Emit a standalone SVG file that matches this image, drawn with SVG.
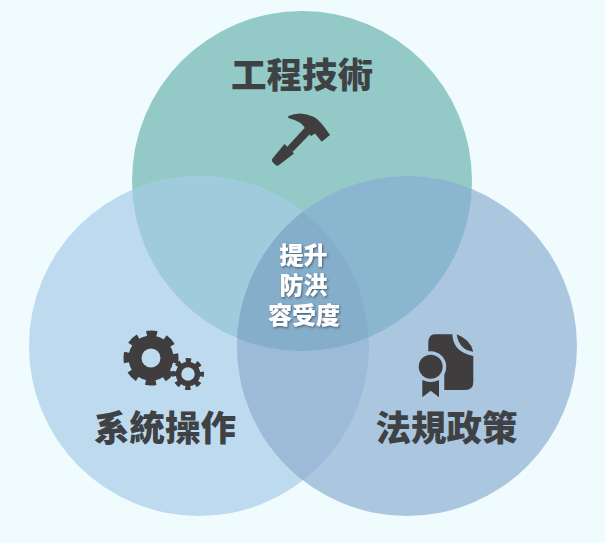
<svg xmlns="http://www.w3.org/2000/svg" width="605" height="543" viewBox="0 0 605 543">
  <style>
    .t{font-family:"Noto Sans CJK TC","Noto Sans CJK SC",sans-serif;font-weight:900;text-anchor:middle}
    .title{font-size:35.500px;fill:#3f4244}
    .mid{font-size:24px;fill:#fff;filter:url(#sh)}
    .ic{fill:#3f3d3e}
  </style>
  <defs>
    <clipPath id="cT"><circle cx="302" cy="181" r="170"/></clipPath>
    <clipPath id="cL"><circle cx="199" cy="346" r="170"/></clipPath>
    <clipPath id="cR"><circle cx="407" cy="346" r="170"/></clipPath>
    <filter id="sh" x="-20%" y="-20%" width="140%" height="140%"><feDropShadow dx="1" dy="1.2" stdDeviation="0.8" flood-color="#34424f" flood-opacity="0.75"/></filter>
  </defs>
  <rect width="605" height="543" fill="#f0fbfe"/>
  <g id="venn">
    <circle cx="302" cy="181" r="170" fill="#93c9c6"/>
    <circle cx="199" cy="346" r="170" fill="#bddaef"/>
    <circle cx="407" cy="346" r="170" fill="#abc6df"/>
    <g clip-path="url(#cT)"><circle cx="199" cy="346" r="170" fill="#a0cbdc"/></g>
    <g clip-path="url(#cT)"><circle cx="407" cy="346" r="170" fill="#8ab6cf"/></g>
    <g clip-path="url(#cL)"><circle cx="407" cy="346" r="170" fill="#9dbbd9"/></g>
    <g clip-path="url(#cT)"><g clip-path="url(#cL)"><circle cx="407" cy="346" r="170" fill="#85aecb"/></g></g>
  </g>
  <g id="engineering">
    <text class="t title" x="302" y="88">工程技術</text>
    <g id="hammer" class="ic">
      <path d="M288.300 116 Q301 110.500 314 117 Q320 120 330 135 L321.700 141.700 L315 133.500 L311 136 L306 130 Q302 121 288.300 118Z"/>
      <path d="M305.500 127 L311 133 L292.500 152 L287 147Z"/>
      <path d="M284.500 144 L294 153.500 L279 165 Q277 166.500 275.500 165 L272.500 162 Q271 160.500 272.500 158.500Z"/>
    </g>
  </g>
  <g id="operation">
    <text class="t title" x="165" y="441">系統操作</text>
    <g id="gears" fill="none" stroke="#3f3d3e">
      <circle cx="151" cy="358" r="16" stroke-width="13"/>
      <circle cx="151" cy="358" r="24.500" stroke-width="6" stroke-dasharray="10.500 8.742" stroke-dashoffset="5.250"/>
      <circle cx="188" cy="374" r="9.500" stroke-width="5.500"/>
      <circle cx="188" cy="374" r="13.500" stroke-width="5" stroke-dasharray="5.200 5.400" stroke-dashoffset="2.600"/>
    </g>
  </g>
  <g id="regulation">
    <text class="t title" x="446.500" y="441">法規政策</text>
    <g id="certificate">
      <path class="ic" d="M428.300 342 Q429 334.300 434.500 334.300 L452.300 334.300 Q453 352 473.300 356 L473.300 382 Q473.300 390 465 390 L444.300 390 L444.300 370 L428.300 352Z"/>
      <path class="ic" d="M456.700 334.300 Q471 340 473.300 351.700 Q459 350 456.700 334.300Z"/>
      <circle cx="430.700" cy="366.700" r="15.500" fill="#abc6df"/>
      <circle class="ic" cx="430.700" cy="366.700" r="12"/>
      <path class="ic" d="M422.300 380 Q430.700 384 439 380 L439 397.300 L430.700 390.700 L422.300 397.300Z"/>
    </g>
  </g>
  <g id="centre">
    <text class="t mid"><tspan x="303.500" y="264">提升</tspan><tspan x="303.500" y="294">防洪</tspan><tspan x="304" y="324">容受度</tspan></text>
  </g>
</svg>
